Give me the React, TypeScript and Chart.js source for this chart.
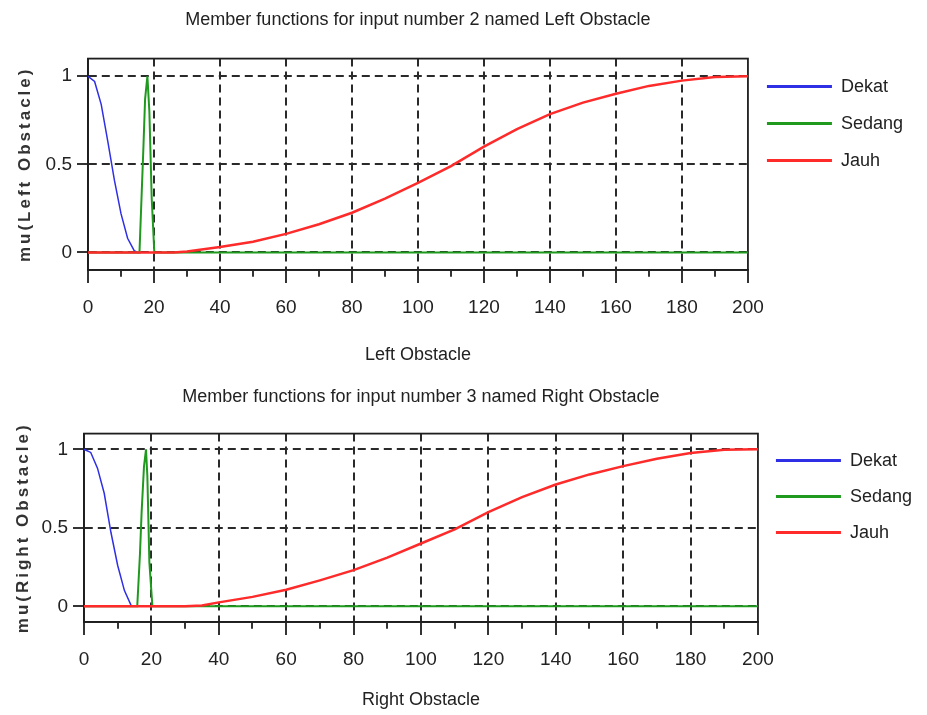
import React, { useEffect, useRef } from 'react';
import { Chart, registerables } from 'chart.js';

Chart.register(...registerables);

const FONT = '"Liberation Sans", Arial, Helvetica, sans-serif';
Chart.defaults.font.family = FONT;

// ---------- tick labels ----------
const xTickValues = [0, 10, 20, 30, 40, 50, 60, 70, 80, 90, 100, 110, 120, 130, 140, 150, 160, 170, 180, 190, 200];
const yTickValues = [0, 0.5, 1];
const seriesNames = ['Dekat', 'Sedang', 'Jauh'];

// ---------- input 2: Left Obstacle ----------
const leftDekatX = [0, 2, 4, 6, 8, 10, 12, 14, 15, 16];
const leftDekatY = [1, 0.97, 0.84, 0.63, 0.41, 0.22, 0.08, 0.01, 0, 0];
const leftSedangX = [0, 15.6, 16.3, 16.8, 17.3, 18.0, 18.6, 19.3, 20.1, 200];
const leftSedangY = [0, 0, 0.35, 0.6, 0.87, 1, 0.8, 0.31, 0, 0];
const leftJauhX = [0, 26, 30, 40, 50, 60, 70, 80, 90, 100, 110, 120, 130, 140, 150, 160, 170, 180, 190, 200];
const leftJauhY = [0, 0, 0.005, 0.03, 0.06, 0.105, 0.16, 0.225, 0.305, 0.395, 0.49, 0.6, 0.7, 0.785, 0.85, 0.9, 0.945, 0.975, 0.995, 1];

// ---------- input 3: Right Obstacle ----------
const rightDekatX = [0, 2, 4, 6, 8, 10, 12, 14, 15, 16];
const rightDekatY = [1, 0.98, 0.88, 0.72, 0.47, 0.26, 0.1, 0.005, 0, 0];
const rightSedangX = [0, 15.8, 16.6, 17.1, 17.8, 18.4, 18.8, 19.4, 20.3, 200];
const rightSedangY = [0, 0, 0.33, 0.6, 0.89, 1, 0.83, 0.28, 0, 0];
const rightJauhX = [0, 30, 35, 40, 50, 60, 70, 80, 90, 100, 110, 120, 130, 140, 150, 160, 170, 180, 190, 200];
const rightJauhY = [0, 0, 0.005, 0.025, 0.06, 0.105, 0.165, 0.23, 0.31, 0.4, 0.49, 0.6, 0.695, 0.776, 0.84, 0.893, 0.94, 0.977, 0.997, 1];

const TEXT = '#222222';
const AXIS = '#1e1e1e';
const GRID = '#2a2a2a';
const COLORS = ['#2f2fe6', '#1f9a1f', '#ff2a2a'];
const WIDTHS = [1.5, 2, 2.5];

function toPoints(xs: number[], ys: number[]) {
  return xs.map((x, i) => ({ x, y: ys[i] }));
}

type Spec = {
  height: number;
  title: string;
  xTitle: string;
  yTitle: string;
  series: { x: number[]; y: number[] }[];
  titlePadTop: number;
  titlePadBottom: number;
  xAxisHeight: number;
  xTitlePadBottom: number;
  yAxisWidth: number;
  yTitleX: number;
  legendPad: number;
  padRight: number;
};

const specs: Spec[] = [
  {
    height: 375,
    title: 'Member functions for input number 2 named Left Obstacle',
    xTitle: 'Left Obstacle',
    yTitle: 'mu(Left Obstacle)',
    series: [
      { x: leftDekatX, y: leftDekatY },
      { x: leftSedangX, y: leftSedangY },
      { x: leftJauhX, y: leftJauhY },
    ],
    titlePadTop: 9,
    titlePadBottom: 28,
    xAxisHeight: 105,
    xTitlePadBottom: 9,
    yAxisWidth: 88,
    yTitleX: 25,
    legendPad: 19,
    padRight: 14,
  },
  {
    height: 340,
    title: 'Member functions for input number 3 named Right Obstacle',
    xTitle: 'Right Obstacle',
    yTitle: 'mu(Right Obstacle)',
    series: [
      { x: rightDekatX, y: rightDekatY },
      { x: rightSedangX, y: rightSedangY },
      { x: rightJauhX, y: rightJauhY },
    ],
    titlePadTop: 11,
    titlePadBottom: 26,
    xAxisHeight: 93,
    xTitlePadBottom: 4,
    yAxisWidth: 84,
    yTitleX: 23,
    legendPad: 18,
    padRight: 5,
  },
];

const framePlugin = {
  id: 'frame',
  beforeDatasetsDraw(chart: any) {
    const { ctx, chartArea } = chart;
    ctx.save();
    ctx.strokeStyle = AXIS;
    ctx.lineWidth = 1.8;
    ctx.strokeRect(chartArea.left, chartArea.top, chartArea.right - chartArea.left, chartArea.bottom - chartArea.top);
    ctx.restore();
  },
};

const yTitlePlugin = {
  id: 'yTitle',
  afterDraw(chart: any, _args: any, opts: any) {
    const { ctx, chartArea } = chart;
    ctx.save();
    ctx.translate(opts.x, (chartArea.top + chartArea.bottom) / 2);
    ctx.rotate(-Math.PI / 2);
    ctx.font = 'bold 17px ' + FONT;
    (ctx as any).letterSpacing = '3px';
    ctx.fillStyle = '#333333';
    ctx.textAlign = 'center';
    ctx.textBaseline = 'middle';
    ctx.fillText(opts.text, 0, 0);
    ctx.restore();
  },
};

function Panel({ spec }: { spec: Spec }) {
  const ref = useRef<HTMLCanvasElement>(null);
  useEffect(() => {
    const chart = new Chart(ref.current as HTMLCanvasElement, {
      type: 'line',
      data: {
        datasets: spec.series.map((s, i) => ({
          label: seriesNames[i],
          data: toPoints(s.x, s.y),
          borderColor: COLORS[i],
          backgroundColor: COLORS[i],
          borderWidth: WIDTHS[i],
          pointRadius: 0,
          tension: 0,
          fill: false,
          order: 2 - i,
        })),
      },
      options: {
        animation: false,
        responsive: false,
        events: [],
        layout: { padding: { top: 0, right: spec.padRight, bottom: 0, left: 0 } },
        plugins: {
          title: {
            display: true,
            text: spec.title,
            fullSize: false,
            color: TEXT,
            font: { size: 18, weight: 'normal' },
            padding: { top: spec.titlePadTop, bottom: spec.titlePadBottom },
          },
          legend: {
            position: 'right',
            align: 'start',
            fullSize: false,
            labels: {
              usePointStyle: true,
              pointStyle: 'line',
              pointStyleWidth: 65,
              padding: spec.legendPad,
              color: TEXT,
              font: { size: 18 },
              sort: (a: any, b: any) => a.datasetIndex - b.datasetIndex,
              generateLabels: (c: any) =>
                (Chart.defaults.plugins.legend.labels as any)
                  .generateLabels(c)
                  .map((l: any) => ({ ...l, lineWidth: 3 })),
            },
          },
          tooltip: { enabled: false },
          yTitle: { text: spec.yTitle, x: spec.yTitleX },
        } as any,
        scales: {
          x: {
            type: 'linear',
            min: 0,
            max: 200,
            afterBuildTicks: (s: any) => {
              s.ticks = xTickValues.map((v) => ({ value: v }));
            },
            afterFit: (s: any) => {
              s.height = spec.xAxisHeight;
            },
            ticks: {
              autoSkip: false,
              maxRotation: 0,
              minRotation: 0,
              padding: 13,
              color: TEXT,
              font: { size: 19 },
              callback: (v: any) => (Number(v) % 20 === 0 ? String(v) : ''),
            },
            grid: {
              color: (c: any) =>
                c.tick && c.tick.value % 20 === 0 && c.tick.value !== 0 && c.tick.value !== 200
                  ? GRID
                  : 'rgba(0,0,0,0)',
              lineWidth: 2,
              tickLength: 13,
              tickColor: AXIS,
              tickWidth: 1.8,
              tickBorderDash: (c: any) => (c.tick && c.tick.value % 20 !== 0 ? [6, 100] : []),
            },
            border: { display: true, color: AXIS, width: 1.8, dash: [8, 5] },
            title: {
              display: true,
              text: spec.xTitle,
              color: TEXT,
              font: { size: 18 },
              padding: { top: 0, bottom: spec.xTitlePadBottom },
            },
          },
          y: {
            type: 'linear',
            min: -0.1,
            max: 1.1,
            afterBuildTicks: (s: any) => {
              s.ticks = yTickValues.map((v) => ({ value: v }));
            },
            afterFit: (s: any) => {
              s.width = spec.yAxisWidth;
            },
            ticks: {
              padding: 5,
              color: TEXT,
              font: { size: 19 },
              callback: (v: any) => String(v),
            },
            grid: {
              color: GRID,
              lineWidth: 2,
              tickLength: 11,
              tickColor: AXIS,
              tickWidth: 1.8,
              tickBorderDash: [],
            },
            border: { display: true, color: AXIS, width: 1.8, dash: [8, 5] },
            title: { display: false },
          },
        } as any,
      },
      plugins: [framePlugin, yTitlePlugin],
    } as any);
    return () => chart.destroy();
  }, [spec]);
  return <canvas ref={ref} width={927} height={spec.height} style={{ display: 'block' }} />;
}

export default function App() {
  useEffect(() => {
    document.body.style.margin = '0';
    document.body.style.overflow = 'hidden';
  }, []);
  return (
    <div style={{ position: 'absolute', left: 0, top: 0, width: 927, height: 715, background: '#ffffff' }}>
      {specs.map((s, i) => (
        <Panel key={i} spec={s} />
      ))}
    </div>
  );
}
